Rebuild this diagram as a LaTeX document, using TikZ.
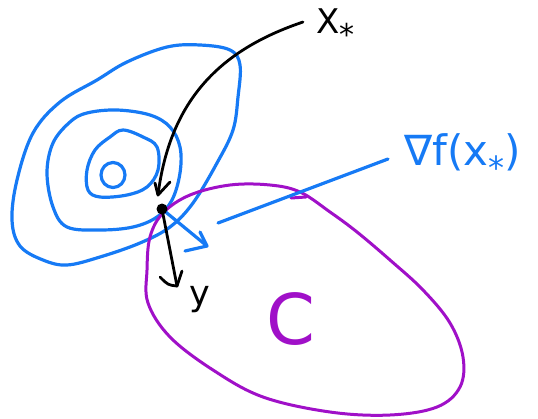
\documentclass[tikz,border=0pt]{standalone}
\usepackage{fontspec}
\setmainfont{DejaVu Sans}
\definecolor{skyb}{RGB}{22,122,245}
\definecolor{purp}{RGB}{160,16,200}
\begin{document}
\begin{tikzpicture}[x=1pt,y=-1pt,line cap=round,line join=round,
  contour/.style={draw=skyb,line width=3.2pt},
  setline/.style={draw=purp,line width=3pt},
  ink/.style={draw=black,line width=2.8pt},
  lab/.style={inner sep=0pt,anchor=base west}]
\useasboundingbox (0,0) rectangle (538,418);
% level sets
\draw[contour] plot[smooth cycle,tension=0.6] coordinates {(60,102) (97,80) (127,62) (167,47) (200,45) (230,50) (240,65) (238,97) (233,130) (217,163) (193,203) (170,227) (140,243) (100,257) (67,265) (43,260) (20,246) (12,220) (17,180) (33,133)};
\draw[contour] plot[smooth cycle,tension=0.6] coordinates {(87,113) (117,110) (150,115) (170,127) (180,147) (180,173) (172,200) (157,217) (133,227) (100,230) (67,227) (53,207) (47,173) (53,143) (70,122)};
\draw[contour] plot[smooth cycle,tension=0.6] coordinates {(123,130) (143,137) (157,147) (158,170) (147,187) (127,195) (100,197) (88,190) (87,170) (95,150) (110,137)};
\draw[contour] (113,175) ellipse [x radius=12,y radius=12.5];
% set C
\draw[setline] plot[smooth cycle,tension=0.6] coordinates {(147,270) (150,237) (163,213) (190,195) (230,185) (270,185) (300,192) (330,212) (357,232) (390,260) (423,290) (450,323) (463,357) (460,387) (437,407) (390,415) (330,412) (263,397) (213,370) (170,337) (148,303)};
\draw[setline] (291,198) -- (306,197);
% coordinates
\coordinate (x0) at (162,209);
\coordinate (xs) at (303,22);
\coordinate (tipA) at (158,195);
\coordinate (tipY) at (177,286);
\coordinate (tipG) at (207,246);
\coordinate (lineA) at (218,223);
\coordinate (lineB) at (388,159);
% labels
\node[lab] (xstar) at (316,33) {\fontsize{34}{34}\selectfont X\raisebox{-12pt}{\fontsize{30}{30}\selectfont *}};
\node[lab,text=skyb] (grad) at (404,165) {\fontsize{42}{42}\selectfont ∇f(x\raisebox{-14pt}{\fontsize{32}{32}\selectfont *})};
\node[lab,text=purp] (cset) at (266,344) {\fontsize{70}{70}\selectfont C};
\node[lab] (ylab) at (189,305) {\fontsize{35}{35}\selectfont y};
% black arrows
\draw[ink] (xs) .. controls (220,50) and (170,100) .. (tipA);
\draw[ink] (155,183) -- (tipA) -- (170,182);
\draw[ink] (x0) -- (tipY);
\draw[ink] (160,277) .. controls (168,285) .. (tipY);
\draw[ink] (182,271) -- (tipY);
% gradient arrow
\draw[contour] (x0) -- (tipG);
\draw[contour] (200,232) -- (tipG) -- (185,251);
\draw[contour] (lineA) -- (lineB);
\fill (x0) circle (5.5);
\end{tikzpicture}
\end{document}
